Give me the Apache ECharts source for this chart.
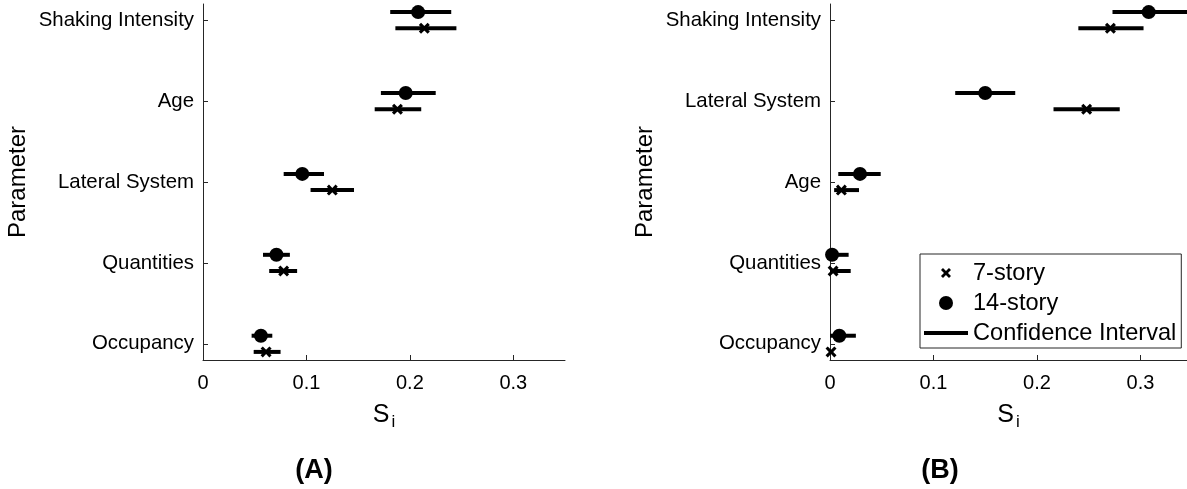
<!DOCTYPE html>
<html>
<head>
<meta charset="utf-8">
<script src="https://cdn.jsdelivr.net/npm/echarts@6/dist/echarts.min.js"></script>
<style>
  html, body { margin: 0; padding: 0; background: #fff; }
  #chart { width: 1187px; height: 489px; }
</style>
</head>
<body>
<div id="chart"></div>
<script>
// (A) parameters, top to bottom
const paramsA = ['Shaking Intensity', 'Age', 'Lateral System', 'Quantities', 'Occupancy'];
const a7    = [0.214, 0.188, 0.125, 0.078, 0.061];
const a7Lo  = [0.186, 0.166, 0.104, 0.064, 0.049];
const a7Hi  = [0.245, 0.211, 0.146, 0.091, 0.075];
const a14   = [0.208, 0.196, 0.096, 0.071, 0.056];
const a14Lo = [0.181, 0.172, 0.078, 0.058, 0.047];
const a14Hi = [0.240, 0.225, 0.117, 0.084, 0.067];

// (B) parameters, top to bottom
const paramsB = ['Shaking Intensity', 'Lateral System', 'Age', 'Quantities', 'Occupancy'];
const b7    = [0.271, 0.248, 0.011, 0.003, 0.001];
const b7Lo  = [0.240, 0.216, 0.004, 0.000, 0.000];
const b7Hi  = [0.303, 0.280, 0.028, 0.020, 0.002];
const b14   = [0.308, 0.150, 0.029, 0.002, 0.009];
const b14Lo = [0.273, 0.121, 0.008, 0.000, 0.000];
const b14Hi = [0.346, 0.179, 0.049, 0.018, 0.025];

const xTicks = [0, 0.1, 0.2, 0.3];

const FONT = "'Liberation Sans', Arial, sans-serif";
const AXIS = '#262626';
const xShape = 'path://M2,0L5,3L8,0L10,2L7,5L10,8L8,10L5,7L2,10L0,8L3,5L0,2Z';
const xLegend = 'path://M-2,-2h0.01v0.01zM12,12h0.01v0.01zM2,0L5,3L8,0L10,2L7,5L10,8L8,10L5,7L2,10L0,8L3,5L0,2Z';

function renderBar(params, api) {
  const p0 = api.coord([api.value(0), api.value(2)]);
  const p1 = api.coord([api.value(1), api.value(2)]);
  const cs = params.coordSys;
  const shape = echarts.graphic.clipRectByRect(
    { x: p0[0], y: p0[1] - 2, width: p1[0] - p0[0], height: 4 },
    { x: cs.x, y: cs.y, width: cs.width, height: cs.height }
  );
  return shape && { type: 'rect', shape: shape, style: { fill: '#000' } };
}

function panelSeries(idx, names, v7, lo7, hi7, v14, lo14, hi14) {
  const n = names.length;
  const bars = [];
  const pts7 = [];
  const pts14 = [];
  names.forEach(function (nm, i) {
    const y = n - i;
    bars.push([lo14[i], hi14[i], y + 0.1]);
    bars.push([lo7[i], hi7[i], y - 0.1]);
    pts14.push([v14[i], y + 0.1]);
    pts7.push([v7[i], y - 0.1]);
  });
  return [
    {
      name: 'Confidence Interval', type: 'custom', xAxisIndex: idx, yAxisIndex: idx,
      renderItem: renderBar, encode: { x: [0, 1], y: 2 }, data: bars,
      itemStyle: { color: '#000' }, silent: true, z: 2
    },
    {
      name: '14-story', type: 'scatter', xAxisIndex: idx, yAxisIndex: idx,
      symbol: 'circle', symbolSize: 14, itemStyle: { color: '#000', opacity: 1 },
      data: pts14, silent: true, z: 3
    },
    {
      name: '7-story', type: 'scatter', xAxisIndex: idx, yAxisIndex: idx,
      symbol: xShape, symbolSize: 11, itemStyle: { color: '#000', opacity: 1 },
      data: pts7, silent: true, z: 3
    }
  ];
}

function yAxisFor(idx, names) {
  const n = names.length;
  const vals = names.map(function (nm, i) { return n - i; });
  return {
    type: 'value', gridIndex: idx, min: 0.8, max: 5.2,
    name: 'Parameter', nameLocation: 'middle', nameGap: 173, nameRotate: 90,
    nameTextStyle: { fontSize: 24, color: '#000', fontFamily: FONT },
    axisLine: { show: true, lineStyle: { color: AXIS, width: 1 } },
    axisTick: { show: true, inside: true, length: 5, customValues: vals, lineStyle: { color: AXIS } },
    axisLabel: {
      customValues: vals, margin: 9, fontSize: 20.4, color: '#000', fontFamily: FONT,
      formatter: function (v) { return names[n - Math.round(v)]; }
    },
    splitLine: { show: false }
  };
}

function xAxisFor(idx, max) {
  return {
    type: 'value', gridIndex: idx, min: 0, max: max,
    name: '{s|S}{i|i}', nameLocation: 'middle', nameGap: 40,
    nameTextStyle: {
      color: '#000', fontFamily: FONT, fontSize: 25,
      rich: {
        s: { fontSize: 25, fontFamily: FONT, color: '#000' },
        i: { fontSize: 17, fontFamily: FONT, color: '#000', padding: [14, 0, 0, 2] }
      }
    },
    axisLine: { show: true, lineStyle: { color: AXIS, width: 1 } },
    axisTick: { show: true, inside: true, length: 5, customValues: xTicks, lineStyle: { color: AXIS } },
    axisLabel: {
      customValues: xTicks, margin: 13, fontSize: 20, color: '#000', fontFamily: FONT,
      formatter: function (v) { return v === 0 ? '0' : v.toFixed(1); }
    },
    splitLine: { show: false }
  };
}

const chart = echarts.init(document.getElementById('chart'));
chart.setOption({
  animation: false,
  backgroundColor: '#fff',
  grid: [
    { left: 203, top: 4, width: 362, height: 356 },
    { left: 830, top: 4, width: 357, height: 356 }
  ],
  xAxis: [xAxisFor(0, 0.35), xAxisFor(1, 0.345)],
  yAxis: [yAxisFor(0, paramsA), yAxisFor(1, paramsB)],
  legend: {
    left: 920, top: 254, orient: 'vertical',
    data: [
      { name: '7-story', icon: xLegend },
      { name: '14-story', icon: 'circle' },
      { name: 'Confidence Interval', icon: 'path://M0,0H44V4H0Z' }
    ],
    itemWidth: 44, itemHeight: 14, itemGap: 2,
    padding: [5, 5, 1, 4],
    borderColor: AXIS, borderWidth: 1, backgroundColor: '#fff',
    selectedMode: false,
    textStyle: { fontSize: 23.6, lineHeight: 28, color: '#000', fontFamily: FONT }
  },
  graphic: [
    { type: 'text', x: 314, y: 471, style: { text: '(A)', align: 'center', verticalAlign: 'middle', font: 'bold 27px ' + FONT, fill: '#000' } },
    { type: 'text', x: 940, y: 471, style: { text: '(B)', align: 'center', verticalAlign: 'middle', font: 'bold 27px ' + FONT, fill: '#000' } }
  ],
  series: [].concat(
    panelSeries(0, paramsA, a7, a7Lo, a7Hi, a14, a14Lo, a14Hi),
    panelSeries(1, paramsB, b7, b7Lo, b7Hi, b14, b14Lo, b14Hi)
  )
});
</script>
</body>
</html>
